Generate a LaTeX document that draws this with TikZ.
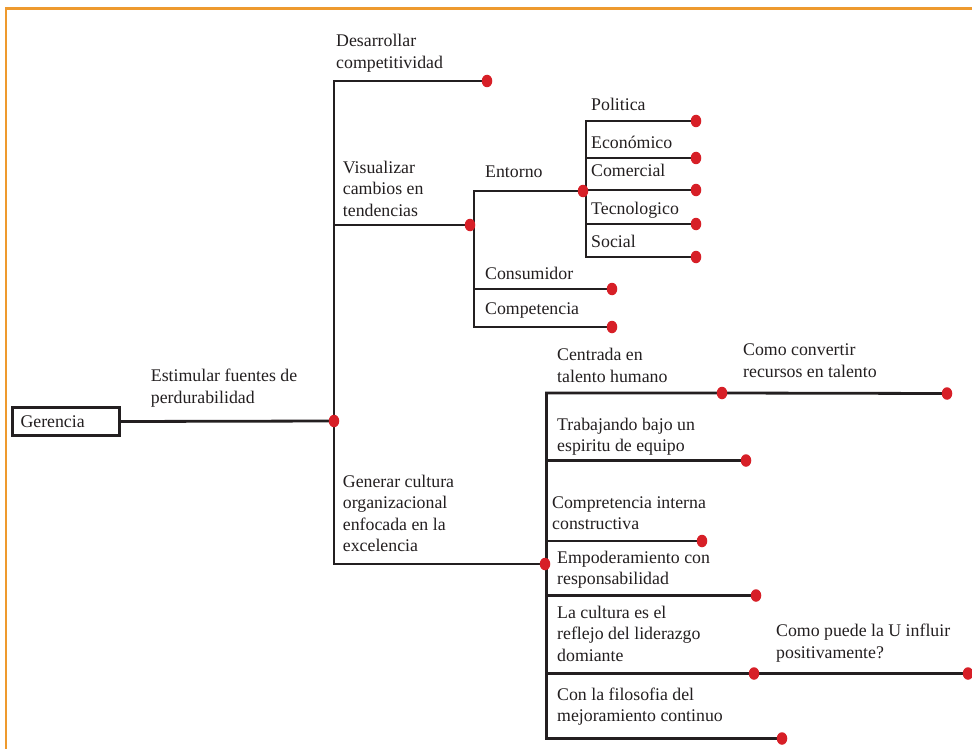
\documentclass[tikz,border=0pt]{standalone}
\usepackage{fontspec}
\setmainfont{Liberation Serif}
\usetikzlibrary{backgrounds,shapes.geometric}
\definecolor{ln}{HTML}{231F20}
\definecolor{rd}{HTML}{D71F27}
\definecolor{fr}{HTML}{EE9A2E}
\newcommand{\ml}[1]{\begin{tabular}[t]{@{}l@{}}#1\end{tabular}}
\tikzset{
  lbl/.style={anchor=base west, inner sep=0pt, font=\fontsize{17.8}{21.5}\selectfont, text=ln},
  dotn/.style={ellipse, fill=rd, draw=none, minimum width=10.5pt, minimum height=12.5pt, inner sep=0pt},
  conn/.style={draw=ln, line width=2.8pt},
  rootbox/.style={draw=ln, line width=2.8pt, fill=white, text width=91pt, inner xsep=8pt, inner ysep=0pt, align=left, minimum height=28.5pt, font=\fontsize{17.8}{21.5}\selectfont, text=ln}
}
\begin{document}
\begin{tikzpicture}[x=1pt,y=-1pt]
\useasboundingbox (0,0) rectangle (972,749);

% root
\node[rootbox] (g) at (66,421.5) {Gerencia};

% dots
\node[dotn] (j0) at (334,421) {};
\node[dotn] (e1) at (487,81) {};
\node[dotn] (j1) at (470,225) {};
\node[dotn] (j2) at (583,191) {};
\node[dotn] (p1) at (696,121) {};
\node[dotn] (p2) at (696,158) {};
\node[dotn] (p3) at (696,190) {};
\node[dotn] (p4) at (696,224) {};
\node[dotn] (p5) at (696,257) {};
\node[dotn] (c1) at (612,289) {};
\node[dotn] (c2) at (612,327) {};
\node[dotn] (j3) at (545,564) {};
\node[dotn] (t1) at (722,393) {};
\node[dotn] (t2) at (947,393.5) {};
\node[dotn] (t3) at (746,460.5) {};
\node[dotn] (t4) at (702,541) {};
\node[dotn] (t5) at (756,595.5) {};
\node[dotn] (t6) at (754,673.5) {};
\node[dotn] (t7) at (968,673.5) {};
\node[dotn] (t8) at (782,738.5) {};

% bend points
\coordinate (k1) at (334,81);
\coordinate (k2) at (334,564);
\coordinate (k3) at (474,191);
\coordinate (k4) at (474,327);
\coordinate (k5) at (586,121);
\coordinate (k6) at (586,257);
\coordinate (k7) at (546.5,393);
\coordinate (k8) at (546.5,738.5);

\begin{scope}[on background layer]
\fill[white] (0,0) rectangle (972,749);
\draw[fr, line width=2.5pt] (6,749) -- (6,8.3) -- (972,8.3);
\draw[conn] (g.east) -- (j0.center);
\draw[conn] (e1.center) -- (k1) -- (k2) -- (j3.center);
\draw[conn] (k1 |- j1) -- (j1.center);
\draw[conn] (j2.center) -- (k3) -- (k4) -- (c2.center);
\draw[conn] (k3 |- j1) -- (j1.center);
\draw[conn] (k3 |- c1) -- (c1.center);
\draw[conn] (p1.center) -- (k5) -- (k6) -- (p5.center);
\draw[conn] (k5 |- p2) -- (p2.center);
\draw[conn] (k5 |- p3) -- (p3.center);
\draw[conn] (k5 |- p4) -- (p4.center);
\draw[conn] (k5 |- j2) -- (j2.center);
\draw[conn] (t2.center) -- (t1.center) -- (k7) -- (k8) -- (t8.center);
\draw[conn] (k7 |- j3) -- (j3.center);
\draw[conn] (k7 |- t3) -- (t3.center);
\draw[conn] (k7 |- t4) -- (t4.center);
\draw[conn] (k7 |- t5) -- (t5.center);
\draw[conn] (t7.center) -- (t6.center) -- (k7 |- t6);
\end{scope}

% labels
\node[lbl] (l1) at (336,47) {\ml{Desarrollar\\competitividad}};
\node[lbl] (l2) at (342.7,173.3) {\ml{Visualizar\\cambios en\\tendencias}};
\node[lbl] (l3) at (485,177) {Entorno};
\node[lbl] (l4) at (591,111) {Politica};
\node[lbl] (l5) at (591,149) {Económico};
\node[lbl] (l6) at (591,176.7) {Comercial};
\node[lbl] (l7) at (591,214.3) {Tecnologico};
\node[lbl] (l8) at (591,247.3) {Social};
\node[lbl] (l9) at (485,279) {Consumidor};
\node[lbl] (l10) at (485,314.3) {Competencia};
\node[lbl] (l11) at (150.7,381.7) {\ml{Estimular fuentes de\\perdurabilidad}};
\node[lbl] (l12) at (342.7,487.3) {\ml{Generar cultura\\organizacional\\enfocada en la\\excelencia}};
\node[lbl] (l13) at (557,360.7) {\ml{Centrada en\\talento humano}};
\node[lbl] (l14) at (743,355.7) {\ml{Como convertir\\recursos en talento}};
\node[lbl] (l15) at (557,430) {\ml{Trabajando bajo un\\espiritu de equipo}};
\node[lbl] (l16) at (552,508) {\ml{Compretencia interna\\constructiva}};
\node[lbl] (l17) at (557,563) {\ml{Empoderamiento con\\responsabilidad}};
\node[lbl] (l18) at (557,618) {\ml{La cultura es el\\reflejo del liderazgo\\domiante}};
\node[lbl] (l19) at (776,636.7) {\ml{Como puede la U influir\\positivamente?}};
\node[lbl] (l20) at (557,700) {\ml{Con la filosofia del\\mejoramiento continuo}};
\end{tikzpicture}
\end{document}
